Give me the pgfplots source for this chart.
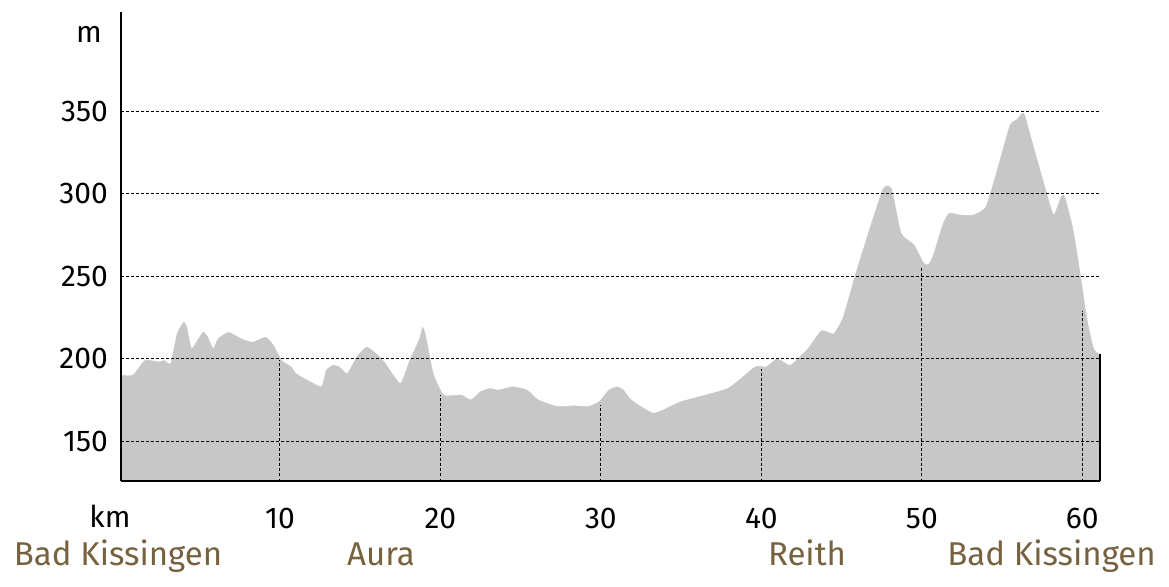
\documentclass[border=0pt]{standalone}
\usepackage{fontspec}
\setmainfont{Fira Sans}
\usepackage{pgfplots}
\pgfplotsset{compat=1.18}
\definecolor{prof}{HTML}{C6C7C6}
\definecolor{town}{HTML}{76623F}
\begin{document}
\begin{tikzpicture}[x=1pt,y=1pt]
\path[use as bounding box] (0,0) rectangle (1169,586);
\begin{axis}[
  at={(121pt,105pt)}, anchor=origin,
  scale only axis, width=979pt, height=469pt,
  xmin=0.1, xmax=61.1, ymin=126, ymax=410,
  axis x line*=bottom, axis y line*=left,
  axis line style={-, line width=2.2pt, black},
  xtick={10,20,30,40,50,60}, ytick={150,200,250,300,350},
  major tick length=0pt,
  ymajorgrids,
  grid style={black, line width=0.9pt, dash pattern=on 2.5pt off 2.5pt},
  axis on top,
  tick label style={font=\fontsize{30}{33}\selectfont},
  /pgf/number format/assume math mode=true,
  xticklabel style={anchor=base, inner sep=0pt, yshift=-47pt},
  yticklabel style={anchor=east, inner sep=0pt, xshift=-13pt},
  clip=false,
]
\addplot[fill=prof, draw=prof, line width=0.5pt, smooth, tension=0.3] coordinates {
(0.1,190) (0.84,190) (1.6,199) (2.5,198) (2.8,199) (3.2,197) (3.6,215) (4.0,222) (4.2,219) (4.5,206)
(5.2,216) (5.5,213) (5.85,206) (6.15,212) (6.8,216) (7.6,212) (8.3,210) (9.1,213) (9.6,208) (10.1,199)
(10.7,195) (11.0,191) (11.9,186) (12.6,183) (12.9,193) (13.3,196) (13.7,195) (14.2,191) (14.8,201) (15.4,207)
(16.0,203) (16.5,198) (17.5,185) (18.1,199) (18.7,212) (18.9,219) (19.1,213) (19.55,191) (20.2,178) (21.3,178)
(21.9,175) (22.5,180) (23.1,182) (23.6,181) (24.5,183) (25.4,181) (26.1,175) (27.3,171) (28.3,171.5) (29.2,171)
(29.9,174) (30.5,181) (31.0,183) (31.4,181) (31.9,175) (33.3,167) (35.0,174) (37.9,182) (39.6,195) (40.3,195)
(41.0,200) (41.8,196) (42.9,206) (43.75,217) (44.5,215) (45.1,225) (45.9,252) (46.8,280) (47.6,303) (48.1,303)
(48.7,276) (49.5,269) (50.1,258) (50.4,257) (50.7,262) (51.3,281) (51.7,288) (52.4,287) (53.2,287) (54.0,292)
(54.75,316) (55.5,341.5) (55.9,344.5) (56.35,348.6) (56.9,330) (57.6,306) (58.2,287) (58.7,298.5) (58.9,298) (59.4,279)
(59.85,252) (60.3,223) (60.7,206) (61.0,203) (61.1,203)
} \closedcycle;
\draw[black, line width=0.9pt, dash pattern=on 2.5pt off 2.5pt]
  (axis cs:10,126) -- (axis cs:10,199)
  (axis cs:20,126) -- (axis cs:20,178)
  (axis cs:30,126) -- (axis cs:30,172)
  (axis cs:40,126) -- (axis cs:40,194)
  (axis cs:50,126) -- (axis cs:50,256)
  (axis cs:60,126) -- (axis cs:60,229);
\draw[black, line width=2.2pt] (axis cs:61.1,126) -- (axis cs:61.1,203);
\end{axis}
\node[anchor=base, font=\fontsize{30}{33}\selectfont] at (89,543) {m};
\node[anchor=base, font=\fontsize{30}{33}\selectfont] at (110,58) {km};
\begin{scope}[every node/.style={anchor=base, text=town, font=\fontsize{33}{36}\selectfont, inner sep=0pt}]
\node at (118,21) {Bad Kissingen};
\node at (381,21) {Aura};
\node at (807,21) {Reith};
\node at (1051.5,21) {Bad Kissingen};
\end{scope}
\end{tikzpicture}
\end{document}
